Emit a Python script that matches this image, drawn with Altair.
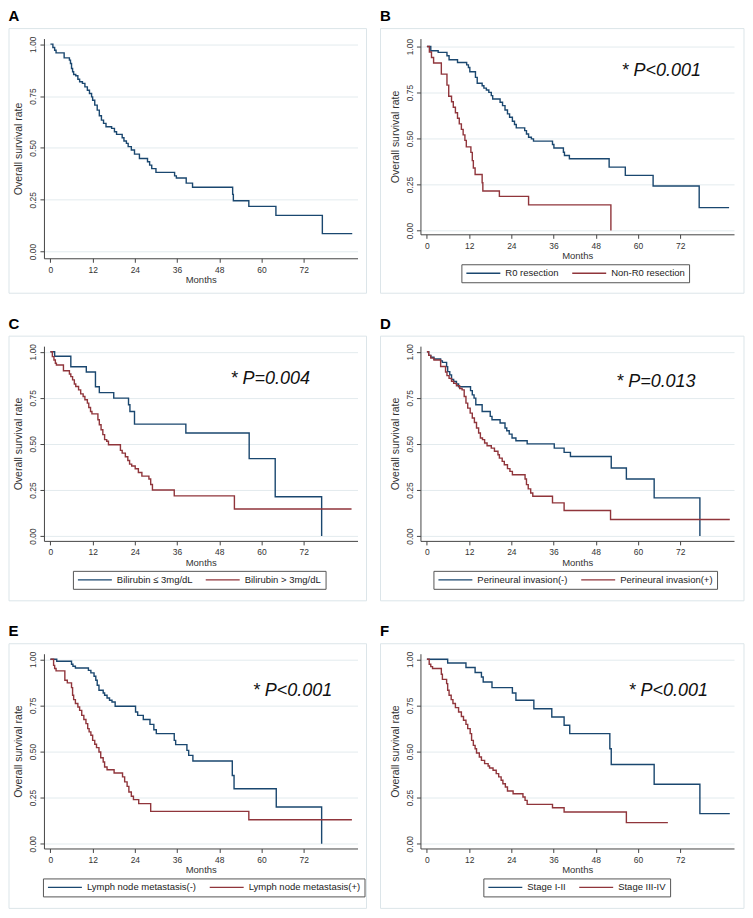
import altair as alt
import pandas as pd

FONT = "Liberation Sans"
NAVY = "#1a476f"
MAROON = "#90353b"
GRID = "#e3ebee"
FRAME = "#dce5e9"
AXIS = "#444444"
TXT = "#333333"

x_ticks = [0, 12, 24, 36, 48, 60, 72]
y_ticks = [0.0, 0.25, 0.5, 0.75, 1.0]
x_domain = [-1.84, 87.3]

# ---------------- data (months, survival) ----------------
A_t = [0, 0.7, 1.2, 1.6, 3.9, 5.4, 5.7, 6.0, 6.3, 6.6, 7.2, 7.8, 8.3, 9.1, 9.8, 10.5, 11.1, 11.7, 12.0, 12.6,
       13.3, 13.9, 14.5, 15.1, 15.8, 17.4, 18.2, 18.8, 20.4, 20.9, 21.6, 22.1, 23.0, 23.9, 25.3, 27.6, 28.2,
       28.8, 30.0, 35.3, 35.8, 38.6, 40.4, 51.8, 52.0, 56.4, 64.1, 77.3, 85.8]
A_s = [1.0, 0.984, 0.971, 0.958, 0.934, 0.923, 0.907, 0.883, 0.867, 0.854, 0.848, 0.831, 0.819, 0.811, 0.794,
       0.778, 0.762, 0.746, 0.730, 0.706, 0.682, 0.655, 0.634, 0.618, 0.602, 0.594, 0.578, 0.565, 0.549, 0.533,
       0.522, 0.506, 0.49, 0.47, 0.449, 0.433, 0.417, 0.40, 0.382, 0.365, 0.355, 0.33, 0.31, 0.276, 0.245,
       0.218, 0.175, 0.087, 0.087]

B1_t = [0, 1.1, 3.2, 5.7, 6.3, 8.7, 11.3, 11.8, 12.2, 13.8, 14.3, 15.7, 16.2, 16.9, 17.6, 18.3, 18.7, 20.8,
        21.5, 22.2, 22.9, 23.5, 24.3, 24.9, 25.4, 27.8, 28.3, 28.9, 29.7, 30.3, 35.7, 36.1, 38.8, 39.1, 40.5,
        51.8, 56.4, 64.3, 77.4, 85.9]
B1_s = [1.0, 0.977, 0.968, 0.95, 0.928, 0.913, 0.90, 0.886, 0.863, 0.832, 0.80, 0.787, 0.774, 0.764, 0.751,
        0.733, 0.715, 0.697, 0.679, 0.655, 0.634, 0.616, 0.594, 0.576, 0.558, 0.543, 0.525, 0.507, 0.498,
        0.486, 0.468, 0.449, 0.426, 0.408, 0.39, 0.345, 0.30, 0.242, 0.125, 0.125]
B2_t = [0, 0.7, 1.3, 1.9, 4.1, 5.7, 6.2, 7.0, 7.5, 8.1, 8.7, 9.2, 9.8, 10.3, 10.8, 11.2, 12.5, 12.9, 13.2,
        13.7, 15.7, 15.9, 20.6, 28.9, 52.3]
B2_s = [1.0, 0.97, 0.94, 0.91, 0.85, 0.79, 0.73, 0.70, 0.67, 0.64, 0.61, 0.58, 0.55, 0.52, 0.49, 0.455,
        0.425, 0.38, 0.34, 0.305, 0.26, 0.215, 0.186, 0.14, 0.0]

C1_t = [0, 1.2, 5.8, 10.2, 12.8, 13.9, 18.0, 22.2, 22.6, 23.9, 38.5, 56.5, 63.9, 77.1]
C1_s = [1.0, 0.975, 0.918, 0.89, 0.81, 0.778, 0.748, 0.712, 0.676, 0.607, 0.559, 0.42, 0.213, 0.0]
C2_t = [0, 0.55, 1.0, 1.4, 1.7, 3.7, 5.4, 5.8, 6.3, 6.8, 7.2, 8.0, 8.6, 9.3, 9.8, 10.5, 10.9, 11.4, 11.8,
        13.5, 13.9, 14.4, 14.9, 15.4, 16.0, 16.5, 19.9, 20.4, 21.3, 22.0, 22.5, 23.1, 24.1, 25.0, 26.0, 28.0,
        28.5, 29.0, 35.2, 52.3, 85.6]
C2_s = [1.0, 0.973, 0.955, 0.937, 0.928, 0.897, 0.879, 0.865, 0.847, 0.825, 0.811, 0.793, 0.771, 0.757,
        0.739, 0.721, 0.697, 0.676, 0.663, 0.631, 0.604, 0.577, 0.55, 0.523, 0.514, 0.495, 0.465, 0.45, 0.43,
        0.41, 0.39, 0.38, 0.365, 0.345, 0.325, 0.31, 0.28, 0.25, 0.218, 0.147, 0.147]

D1_t = [0, 0.5, 1.1, 2.0, 3.9, 4.4, 5.6, 5.9, 6.5, 7.0, 7.6, 8.4, 9.0, 12.4, 12.9, 13.4, 13.9, 15.7, 18.0,
        18.5, 20.8, 22.2, 22.7, 23.4, 24.2, 25.3, 28.5, 36.2, 39.0, 40.8, 52.4, 56.7, 64.6, 77.6]
D1_s = [1.0, 0.98, 0.97, 0.96, 0.95, 0.942, 0.919, 0.892, 0.874, 0.85, 0.838, 0.825, 0.81, 0.789, 0.766,
        0.748, 0.712, 0.676, 0.649, 0.631, 0.613, 0.586, 0.571, 0.553, 0.532, 0.517, 0.50, 0.477, 0.454,
        0.432, 0.369, 0.31, 0.207, 0.0]
D2_t = [0, 0.5, 1.1, 2.0, 3.9, 5.3, 5.7, 6.3, 7.0, 7.6, 8.4, 9.3, 10.0, 10.6, 11.1, 11.6, 12.3, 12.9, 13.5,
        14.1, 14.7, 15.2, 15.8, 16.4, 17.1, 18.3, 19.2, 20.2, 20.6, 21.4, 22.0, 22.9, 23.6, 24.3, 27.9, 28.3,
        28.8, 29.5, 30.1, 35.7, 39.0, 52.2, 86.1]
D2_s = [1.0, 0.98, 0.965, 0.955, 0.92, 0.89, 0.87, 0.855, 0.84, 0.828, 0.815, 0.80, 0.793, 0.757, 0.721,
        0.694, 0.667, 0.64, 0.616, 0.586, 0.559, 0.532, 0.523, 0.505, 0.49, 0.477, 0.46, 0.441, 0.423, 0.405,
        0.387, 0.366, 0.351, 0.333, 0.31, 0.279, 0.256, 0.234, 0.216, 0.18, 0.139, 0.09, 0.09]

E1_t = [0, 1.8, 6.0, 6.4, 7.1, 10.8, 11.5, 12.4, 12.9, 13.3, 13.8, 15.0, 15.4, 16.1, 16.8, 17.5, 18.4, 24.2,
        24.8, 26.4, 28.3, 29.4, 30.1, 35.2, 35.6, 38.8, 39.3, 40.5, 51.7, 52.2, 64.2, 77.1]
E1_s = [1.0, 0.989, 0.973, 0.962, 0.953, 0.94, 0.926, 0.908, 0.886, 0.859, 0.832, 0.817, 0.805, 0.79, 0.778,
        0.768, 0.745, 0.714, 0.696, 0.673, 0.647, 0.618, 0.597, 0.56, 0.537, 0.506, 0.479, 0.448, 0.37,
        0.298, 0.199, 0.0]
E2_t = [0, 0.9, 1.2, 1.6, 4.1, 4.8, 6.0, 6.3, 6.6, 7.1, 7.8, 8.3, 8.9, 9.5, 10.1, 10.6, 11.0, 11.5, 12.0,
        12.6, 13.1, 13.8, 14.3, 15.0, 15.4, 16.1, 18.1, 20.5, 21.1, 21.8, 22.3, 23.0, 23.6, 25.1, 28.5, 56.4,
        85.7]
E2_s = [1.0, 0.967, 0.95, 0.937, 0.886, 0.872, 0.846, 0.805, 0.781, 0.76, 0.741, 0.723, 0.696, 0.673, 0.651,
        0.624, 0.606, 0.588, 0.56, 0.539, 0.521, 0.497, 0.466, 0.443, 0.416, 0.401, 0.383, 0.362, 0.335,
        0.311, 0.28, 0.257, 0.239, 0.217, 0.175, 0.13, 0.13]

F1_t = [0, 5.9, 11.1, 13.7, 15.5, 16.0, 18.5, 24.3, 25.3, 30.4, 35.5, 39.0, 40.6, 52.0, 52.4, 64.6, 77.6, 86.1]
F1_s = [1.0, 0.98, 0.955, 0.928, 0.904, 0.877, 0.846, 0.817, 0.778, 0.732, 0.687, 0.642, 0.597, 0.515,
        0.429, 0.322, 0.163, 0.163]
F2_t = [0, 0.65, 1.1, 1.6, 4.1, 4.4, 5.6, 5.9, 6.3, 6.9, 7.4, 8.1, 9.0, 9.8, 10.4, 11.1, 11.6, 12.3, 12.7,
        13.2, 13.7, 14.1, 14.9, 15.5, 16.4, 17.4, 17.8, 18.8, 19.7, 20.4, 21.1, 21.6, 22.3, 22.9, 24.5, 27.3,
        27.9, 28.5, 35.7, 39.0, 56.7, 68.5]
F2_s = [1.0, 0.973, 0.96, 0.95, 0.919, 0.891, 0.868, 0.832, 0.805, 0.781, 0.76, 0.738, 0.714, 0.69, 0.669,
        0.647, 0.624, 0.597, 0.56, 0.533, 0.515, 0.492, 0.47, 0.452, 0.434, 0.421, 0.41, 0.398, 0.38, 0.362,
        0.344, 0.325, 0.307, 0.286, 0.271, 0.253, 0.235, 0.213, 0.195, 0.172, 0.114, 0.114]

names_B = ["R0 resection", "Non-R0 resection"]
names_C = ["Bilirubin \u2264 3mg/dL", "Bilirubin > 3mg/dL"]
names_D = ["Perineural invasion(-)", "Perineural invasion(+)"]
names_E = ["Lymph node metastasis(-)", "Lymph node metastasis(+)"]
names_F = ["Stage I-II", "Stage III-IV"]

p_texts = {"B": "* P<0.001", "C": "* P=0.004", "D": "* P=0.013", "E": "* P<0.001", "F": "* P<0.001"}
p_pos = {"B": (55.3, 0.84), "C": (51.2, 0.825), "D": (53.8, 0.807), "E": (57.5, 0.80), "F": (57.3, 0.80)}

W = 314


def panel(label, curves, names, ydom, H, left_col, legend_x=0):
    xs = alt.Scale(domain=x_domain, nice=False, zero=False)
    ys = alt.Scale(domain=ydom, nice=False, zero=False)
    xax = alt.Axis(values=x_ticks, title="Months", grid=False, labelFont=FONT, titleFont=FONT,
                   labelFontSize=8.5, titleFontSize=9.5, titleFontWeight="normal", tickSize=4,
                   labelPadding=3, titlePadding=1, domainColor=AXIS, tickColor=AXIS,
                   labelColor=TXT, titleColor=TXT, labelFlush=False)
    yax = alt.Axis(values=y_ticks, format=".2f", title="Overall survival rate", grid=True,
                   gridColor=GRID, gridWidth=1, labelAngle=270, labelAlign="center",
                   labelBaseline="bottom", labelFont=FONT, titleFont=FONT, labelFontSize=8.5,
                   titleFontSize=10.5, titleFontWeight="normal", tickSize=4, labelPadding=2,
                   titlePadding=5, domainColor=AXIS, tickColor=AXIS, labelColor=TXT,
                   titleColor=TXT, labelFlush=False)
    rows = []
    for name, (ts, ss) in zip(names, curves):
        for t, s in zip(ts, ss):
            rows.append({"t": t, "s": s, "grp": name})
    df = pd.DataFrame(rows)

    fl, fr = (-35, W + 9) if left_col else (-40, W + 10)
    frame = alt.Chart(pd.DataFrame({"k": [0]})).mark_rect(
        fill="white", fillOpacity=0, stroke=FRAME, strokeWidth=1
    ).encode(x=alt.value(fl), x2=alt.value(fr), y=alt.value(-10), y2=alt.value(255))

    X = alt.X("t:Q", scale=xs, axis=xax)
    Y = alt.Y("s:Q", scale=ys, axis=yax)
    if len(names) == 1:
        lines = alt.Chart(df).mark_line(interpolate="step-after", strokeWidth=1.4, color=NAVY).encode(x=X, y=Y)
    else:
        leg = alt.Legend(orient="none", legendX=legend_x, legendY=H + 30, direction="horizontal",
                         columns=2, title=None, symbolType="stroke", symbolSize=1156,
                         symbolStrokeWidth=1.4, clipHeight=10, labelFont=FONT, labelFontSize=9.5,
                         labelColor="#222222", labelOffset=4, columnPadding=12, padding=4,
                         strokeColor="#555555", fillColor="white", labelLimit=400)
        lines = alt.Chart(df).mark_line(interpolate="step-after", strokeWidth=1.4).encode(
            x=X, y=Y,
            color=alt.Color("grp:N", scale=alt.Scale(domain=names, range=[NAVY, MAROON]), legend=leg),
        )
    layers = [frame, lines]
    if label in p_texts:
        pdf = pd.DataFrame({"t": [p_pos[label][0]], "s": [p_pos[label][1]], "txt": [p_texts[label]]})
        layers.append(
            alt.Chart(pdf).mark_text(align="left", baseline="alphabetic", fontSize=18, fontStyle="italic",
                                     font=FONT, color="#111111").encode(x=X, y=Y, text="txt:N")
        )
    return alt.layer(*layers).properties(
        width=W, height=H,
        title=alt.TitleParams(text=label, anchor="start", frame="bounds", fontSize=15, fontWeight="bold",
                              font=FONT, color="#000000", offset=-8, baseline="alphabetic"),
    )


pA = panel("A", [(A_t, A_s)], ["All"], [-0.032, 1.027], 220, True)
pB = panel("B", [(B1_t, B1_s), (B2_t, B2_s)], names_B, [-0.02, 1.043], 196, False, legend_x=41)
pC = panel("C", [(C1_t, C1_s), (C2_t, C2_s)], names_C, [-0.026, 1.03], 195, True, legend_x=29)
pD = panel("D", [(D1_t, D1_s), (D2_t, D2_s)], names_D, [-0.026, 1.03], 195, False, legend_x=13)
pE = panel("E", [(E1_t, E1_s), (E2_t, E2_s)], names_E, [-0.026, 1.03], 195, True, legend_x=-1)
pF = panel("F", [(F1_t, F1_s), (F2_t, F2_s)], names_F, [-0.026, 1.03], 195, False, legend_x=63)

chart = alt.vconcat(
    alt.hconcat(pA, pB, spacing=12).resolve_scale(color="independent"),
    alt.hconcat(pC, pD, spacing=12).resolve_scale(color="independent"),
    alt.hconcat(pE, pF, spacing=12).resolve_scale(color="independent"),
    spacing=22,
).resolve_scale(color="independent").properties(padding=0).configure_view(strokeWidth=0)

chart.save("out.html", embed_options={"renderer": "svg", "actions": False})
